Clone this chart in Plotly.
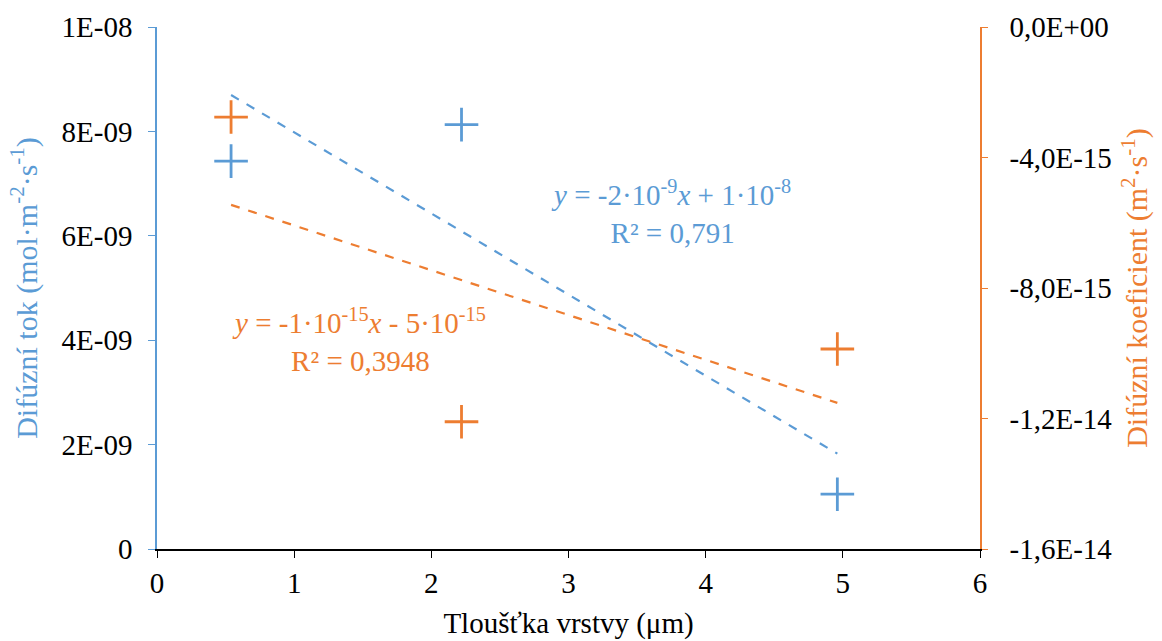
import numpy as np
import plotly.graph_objects as go

# Layer thickness (µm)
thickness = [0.54, 2.22, 4.96]
# Diffusion flux (mol·m^-2·s^-1)
flux = [7.43e-9, 8.13e-9, 1.05e-9]
# Diffusion coefficient (m^2·s^-1)
coef = [-2.76e-15, -12.1e-15, -9.87e-15]

flux_eq = "<i>y</i> = -2·10<sup>-9</sup><i>x</i> + 1·10<sup>-8</sup><br>R² = 0,791"
coef_eq = "<i>y</i> = -1·10<sup>-15</sup><i>x</i> - 5·10<sup>-15</sup><br>R² = 0,3948"

BLUE = "#5B9BD5"
ORANGE = "#ED7D31"
FONT = "Liberation Serif"
FS = 29
FT = 30

x_arr = np.array(thickness)
x_line = np.array([x_arr.min(), x_arr.max()])
fb = np.polyfit(x_arr, flux, 1)
fc = np.polyfit(x_arr, coef, 1)

fig = go.Figure()
fig.add_trace(go.Scatter(
    x=x_line, y=np.polyval(fb, x_line), mode="lines",
    line=dict(color=BLUE, width=2.2, dash="dash"), showlegend=False, yaxis="y"))
fig.add_trace(go.Scatter(
    x=x_line, y=np.polyval(fc, x_line), mode="lines",
    line=dict(color=ORANGE, width=2.2, dash="dash"), showlegend=False, yaxis="y2"))
fig.add_trace(go.Scatter(
    x=thickness, y=flux, mode="markers",
    marker=dict(symbol="cross-thin", size=24, line=dict(color=BLUE, width=2.8)),
    showlegend=False, yaxis="y"))
fig.add_trace(go.Scatter(
    x=thickness, y=coef, mode="markers",
    marker=dict(symbol="cross-thin", size=24, line=dict(color=ORANGE, width=2.8)),
    showlegend=False, yaxis="y2"))

fig.update_layout(
    width=1162, height=641,
    margin=dict(l=157, r=182, t=27, b=92),
    paper_bgcolor="white", plot_bgcolor="white",
    font=dict(family=FONT, size=FS, color="black"),
    xaxis=dict(
        range=[0, 6], dtick=1, showgrid=False, zeroline=False,
        showline=True, linecolor="black", linewidth=1.5,
        ticks="outside", ticklen=7, tickcolor="black",
        automargin=False,
        tickfont=dict(family=FONT, size=FS),
        title=dict(text="Tloušťka vrstvy (μm)",
                   font=dict(family=FONT, size=FS)),
    ),
    yaxis=dict(
        range=[0, 1e-8], tickvals=[0, 2e-9, 4e-9, 6e-9, 8e-9, 1e-8],
        ticktext=["0", "2E-09", "4E-09", "6E-09", "8E-09", "1E-08"],
        showgrid=False, zeroline=False,
        showline=True, linecolor=BLUE, linewidth=1.5,
        ticks="outside", ticklen=7, tickcolor=BLUE,
        ticklabelstandoff=10, automargin=False,
        tickfont=dict(family=FONT, size=FS),
        title=dict(text="Difúzní tok (mol·m<sup>-2</sup>·s<sup>-1</sup>)",
                   font=dict(family=FONT, size=FT, color=BLUE)),
    ),
    yaxis2=dict(
        range=[-1.6e-14, 0], overlaying="y", side="right",
        tickvals=[-1.6e-14, -1.2e-14, -8e-15, -4e-15, 0],
        ticktext=["-1,6E-14", "-1,2E-14", "-8,0E-15", "-4,0E-15", "0,0E+00"],
        showgrid=False, zeroline=False,
        showline=True, linecolor=ORANGE, linewidth=1.5,
        ticks="outside", ticklen=6, tickcolor=ORANGE,
        ticklabelstandoff=16, automargin=False,
        tickfont=dict(family=FONT, size=FS),
        title=dict(text="Difúzní koeficient (m<sup>2</sup>·s<sup>-1</sup>)",
                   font=dict(family=FONT, size=FT, color=ORANGE)),
    ),
    annotations=[
        dict(x=3.75, y=6.45e-9, xref="x", yref="y", text=flux_eq,
             showarrow=False, font=dict(family=FONT, size=FS, color=BLUE),
             align="center"),
        dict(x=1.47, y=4.0e-9, xref="x", yref="y", text=coef_eq,
             showarrow=False, font=dict(family=FONT, size=FS, color=ORANGE),
             align="center"),
    ],
)

fig.write_html("out.html")
